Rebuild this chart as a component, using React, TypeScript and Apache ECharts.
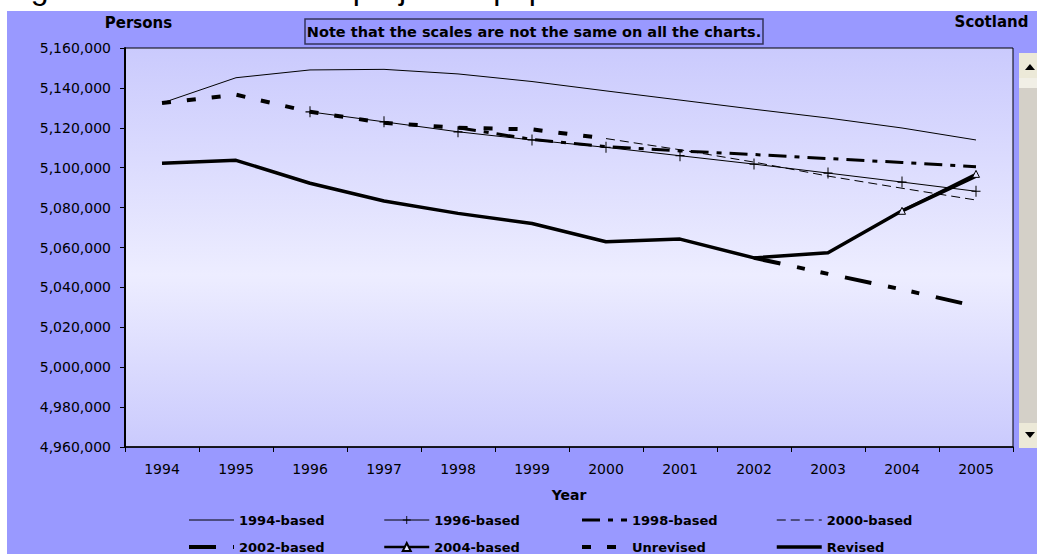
import React, { useEffect, useRef } from "react";
import * as echarts from "echarts";

const years = ["1994", "1995", "1996", "1997", "1998", "1999", "2000", "2001", "2002", "2003", "2004", "2005"];

const based1994 = [5132400, 5145100, 5149000, 5149300, 5147000, 5143200, 5138500, 5133900, 5129300, 5124900, 5119900, 5113900];
const based1996 = [null, null, 5128000, 5123000, 5118000, 5113900, 5110200, 5106000, 5101800, 5097300, 5092800, 5088200];
const based1998 = [null, null, null, null, 5120000, 5114200, 5110600, 5108400, 5106600, 5104600, 5102600, 5100500];
const based2000 = [null, null, null, null, null, null, 5114600, 5109000, 5102800, 5095800, 5089700, 5083800];
const based2002 = [null, null, null, null, null, null, null, null, 5054800, 5046800, 5039000, 5030500];
const based2004 = [null, null, null, null, null, null, null, null, null, null, 5078400, 5096900];
const unrevised = [5132400, 5136600, 5128000, 5122500, 5120000, 5119200, 5114600, null, null, null, null, null];
const revised = [5102200, 5103700, 5092200, 5083300, 5077100, 5072000, 5062900, 5064200, 5054800, 5057400, 5078400, 5095800];

const yMin = 4960000;
const yMax = 5160000;
const yStep = 20000;

const FONT = "DejaVu Sans";
const PLUS = "path://M4,0 L5,0 L5,4 L9,4 L9,5 L5,5 L5,9 L4,9 L4,5 L0,5 L0,4 L4,4 Z";

export default function App() {
  const ref = useRef<HTMLDivElement>(null);

  useEffect(() => {
    if (!ref.current) return;
    const chart = echarts.init(ref.current, null, { renderer: "svg" });

    const mk = (name: string, data: (number | null)[], lineStyle: any, extra: any = {}) => ({
      name,
      type: "line",
      data,
      symbol: "none",
      connectNulls: false,
      lineStyle: { color: "#000", ...lineStyle },
      itemStyle: { color: "#000" },
      emphasis: { disabled: true },
      ...extra,
    });

    const legendText = { fontFamily: FONT, fontWeight: "bold", fontSize: 13, color: "#000", lineHeight: 14 };
    const hideSym = { itemStyle: { opacity: 0 } };
    const legendBase = {
      orient: "vertical",
      top: 513,
      padding: 0,
      itemGap: 13,
      itemWidth: 45,
      itemHeight: 10,
      selectedMode: false,
      textStyle: legendText,
      lineStyle: { width: "inherit" },
    };

    chart.setOption({
      animation: false,
      backgroundColor: "#fff",
      grid: {
        left: 125,
        right: 24,
        top: 48,
        bottom: 107,
        show: true,
        borderColor: "#000",
        borderWidth: 1,
        backgroundColor: new echarts.graphic.LinearGradient(0, 0, 0, 1, [
          { offset: 0, color: "#CACAFD" },
          { offset: 0.57, color: "#EDEDFF" },
          { offset: 1, color: "#CACAFD" },
        ]),
      },
      xAxis: {
        type: "category",
        data: years,
        boundaryGap: true,
        name: "Year",
        nameLocation: "middle",
        nameGap: 41,
        nameTextStyle: { fontFamily: FONT, fontWeight: "bold", fontSize: 14, color: "#000" },
        axisLine: { show: true, lineStyle: { color: "#000", width: 1.5 } },
        axisTick: { show: true, length: 5, alignWithLabel: false, lineStyle: { color: "#000", width: 1 } },
        axisLabel: { color: "#000", fontFamily: FONT, fontSize: 14, margin: 15 },
        splitLine: { show: false },
      },
      yAxis: {
        type: "value",
        min: yMin,
        max: yMax,
        interval: yStep,
        axisLine: { show: true, lineStyle: { color: "#000", width: 2 } },
        axisTick: { show: true, length: 5, lineStyle: { color: "#000", width: 1 } },
        axisLabel: {
          color: "#000",
          fontFamily: FONT,
          fontSize: 14,
          margin: 14,
          formatter: (v: number) => v.toLocaleString("en-US"),
        },
        splitLine: { show: false },
      },
      legend: [
        { ...legendBase, left: 187, data: [{ name: "1994-based", ...hideSym }, { name: "2002-based", ...hideSym }] },
        { ...legendBase, left: 383, data: ["1996-based", "2004-based"] },
        { ...legendBase, left: 580, data: [{ name: "1998-based", ...hideSym }, { name: "Unrevised", ...hideSym }] },
        { ...legendBase, left: 775, data: [{ name: "2000-based", ...hideSym }, { name: "Revised", ...hideSym }] },
      ],
      series: [
        mk("1994-based", based1994, { width: 1, type: "solid" }),
        mk("1996-based", based1996, { width: 1, type: "solid" }, {
          symbol: PLUS,
          symbolSize: [9, 11],
          showSymbol: true,
          itemStyle: { color: "#000" },
        }),
        mk("1998-based", based1998, { width: 3, type: [18, 8, 5, 8] }),
        mk("2000-based", based2000, { width: 1, type: [9, 5] }),
        mk("2002-based", based2002, { width: 4, type: [27, 17, 8, 16, 8, 17] }),
        mk("Unrevised", unrevised, { width: 4, type: [9, 16] }),
        mk("Revised", revised, { width: 3.5, type: "solid", join: "round" }),
        mk("2004-based", based2004, { width: 2.5, type: "solid" }, {
          symbol: "triangle",
          symbolSize: 7,
          showSymbol: true,
          itemStyle: { color: "#E4E4FF", borderColor: "#000", borderWidth: 1 },
        }),
      ],
      graphic: [
        {
          type: "text",
          z: -20,
          x: 4,
          y: -12,
          style: {
            text: "Figure 1: Estimated and projected population",
            fontFamily: "Liberation Sans",
            fontSize: 32,
            fill: "#000",
            verticalAlign: "middle",
          },
        },
        {
          type: "rect",
          z: -10,
          shape: { x: 7, y: 11, width: 1030, height: 543 },
          style: { fill: "#9999FF" },
        },
        {
          type: "rect",
          shape: { x: 305, y: 19, width: 458, height: 25 },
          style: { fill: "#9999FF", stroke: "#33335C", lineWidth: 1.5 },
        },
        {
          type: "text",
          x: 534,
          y: 32,
          style: {
            text: "Note that the scales are not the same on all the charts.",
            fontFamily: FONT,
            fontWeight: "bold",
            fontSize: 14.5,
            fill: "#000",
            align: "center",
            verticalAlign: "middle",
          },
        },
        {
          type: "text",
          x: 138.5,
          y: 23,
          style: { text: "Persons", fontFamily: FONT, fontWeight: "bold", fontSize: 15, fill: "#000", align: "center", verticalAlign: "middle" },
        },
        {
          type: "text",
          x: 991.5,
          y: 22,
          style: { text: "Scotland", fontFamily: FONT, fontWeight: "bold", fontSize: 15, fill: "#000", align: "center", verticalAlign: "middle" },
        },
        { type: "rect", shape: { x: 1019, y: 53, width: 18, height: 395 }, style: { fill: "#D4D0C8" } },
        { type: "rect", shape: { x: 1019, y: 53, width: 18, height: 25 }, style: { fill: "#ECE9D8" } },
        { type: "rect", shape: { x: 1019, y: 78, width: 18, height: 10 }, style: { fill: "#F1EFE6" } },
        { type: "polygon", shape: { points: [[1025, 70], [1035, 70], [1030, 64]] }, style: { fill: "#000" } },
        { type: "rect", shape: { x: 1019, y: 423, width: 18, height: 25 }, style: { fill: "#ECE9D8" } },
        { type: "polygon", shape: { points: [[1025, 432], [1035, 432], [1030, 438]] }, style: { fill: "#000" } },
      ],
    });

    return () => chart.dispose();
  }, []);

  return (
    <div
      ref={ref}
      style={{ position: "fixed", left: 0, top: 0, width: 1037, height: 554 }}
    />
  );
}
